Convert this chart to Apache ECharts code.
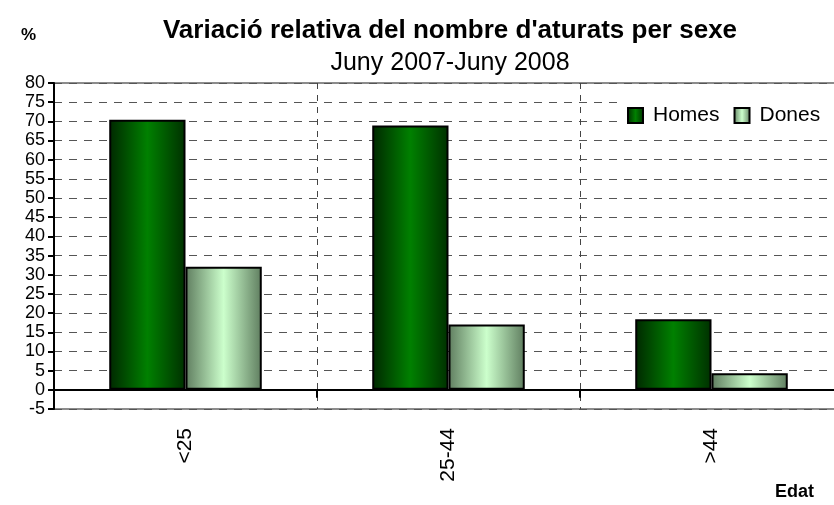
<!DOCTYPE html>
<html>
<head>
<meta charset="utf-8">
<script src="https://cdn.jsdelivr.net/npm/echarts@6/dist/echarts.min.js"></script>
<style>
  html, body { margin: 0; padding: 0; background: #fff; }
  #chart { width: 834px; height: 505px; }
</style>
</head>
<body>
<div id="chart"></div>
<script>
// dades
const categories = ['<25', '25-44', '>44'];
const homes = [70.4, 68.9, 18.4];
const dones = [32.1, 17.0, 4.3];
const yTicks = { min: -5, max: 80, step: 5 };

const fontFam = '"Liberation Sans", Arial, sans-serif';

function hGrad(edge, mid, edge2) {
  return new echarts.graphic.LinearGradient(0, 0, 1, 0, [
    { offset: 0, color: edge },
    { offset: 0.5, color: mid },
    { offset: 1, color: edge2 }
  ]);
}

const chart = echarts.init(document.getElementById('chart'));

const option = {
  backgroundColor: '#fff',
  animation: false,
  textStyle: { fontFamily: fontFam, color: '#000' },
  title: {
    text: "Variació relativa del nombre d'aturats per sexe",
    subtext: 'Juny 2007-Juny 2008',
    left: 445,
    top: 13,
    textAlign: 'center',
    itemGap: 7,
    textStyle: { fontFamily: fontFam, fontSize: 26, fontWeight: 'bold', color: '#000' },
    subtextStyle: { fontFamily: fontFam, fontSize: 25, color: '#000' }
  },
  legend: {
    data: ['Homes', 'Dones'],
    left: 620,
    top: 97,
    padding: [8, 10, 8, 7],
    backgroundColor: '#fff',
    itemWidth: 15,
    itemHeight: 15,
    itemGap: 14,
    icon: 'rect',
    textStyle: { fontFamily: fontFam, fontSize: 21, color: '#000', padding: [0, 0, 0, 5] }
  },
  grid: {
    left: 54,
    width: 789,
    top: 83,
    bottom: 96,
    outerBoundsMode: 'none',
    show: true,
    borderColor: '#8c8c8c',
    borderWidth: 2,
    backgroundColor: 'transparent'
  },
  xAxis: {
    type: 'category',
    data: categories,
    axisLine: { onZero: true, lineStyle: { color: '#000', width: 2 } },
    axisTick: { show: true, length: 8, lineStyle: { color: '#000', width: 2 } },
    axisLabel: { rotate: 90, margin: 19, fontSize: 21, color: '#000', fontFamily: fontFam },
    splitLine: { show: true, lineStyle: { color: '#444', type: [6, 6], width: 1 } }
  },
  yAxis: {
    type: 'value',
    min: yTicks.min,
    max: yTicks.max,
    interval: yTicks.step,
    axisLine: { show: true, lineStyle: { color: '#000', width: 2 } },
    axisTick: { show: true, length: 6, lineStyle: { color: '#000', width: 2 } },
    axisLabel: { fontSize: 18, color: '#000', margin: 9, fontFamily: fontFam },
    splitLine: { show: true, lineStyle: { color: '#555', type: [8, 7], width: 1 } }
  },
  series: [
    {
      name: 'Homes',
      type: 'bar',
      data: homes,
      barGap: '0%',
      barCategoryGap: '42%',
      itemStyle: {
        color: hGrad('#002800', '#008000', '#003000'),
        borderColor: '#000',
        borderWidth: 2
      }
    },
    {
      name: 'Dones',
      type: 'bar',
      data: dones,
      barGap: '0%',
      barCategoryGap: '42%',
      itemStyle: {
        color: hGrad('#5f7d5f', '#ccffcc', '#5f7d5f'),
        borderColor: '#000',
        borderWidth: 2
      }
    }
  ],
  graphic: [
    {
      type: 'text', left: 21, top: 27,
      style: { text: '%', font: 'bold 17px ' + fontFam, fill: '#000' }
    },
    {
      type: 'text', left: 775, top: 483,
      style: { text: 'Edat', font: 'bold 18px ' + fontFam, fill: '#000' }
    }
  ]
};

chart.setOption(option);
</script>
</body>
</html>
